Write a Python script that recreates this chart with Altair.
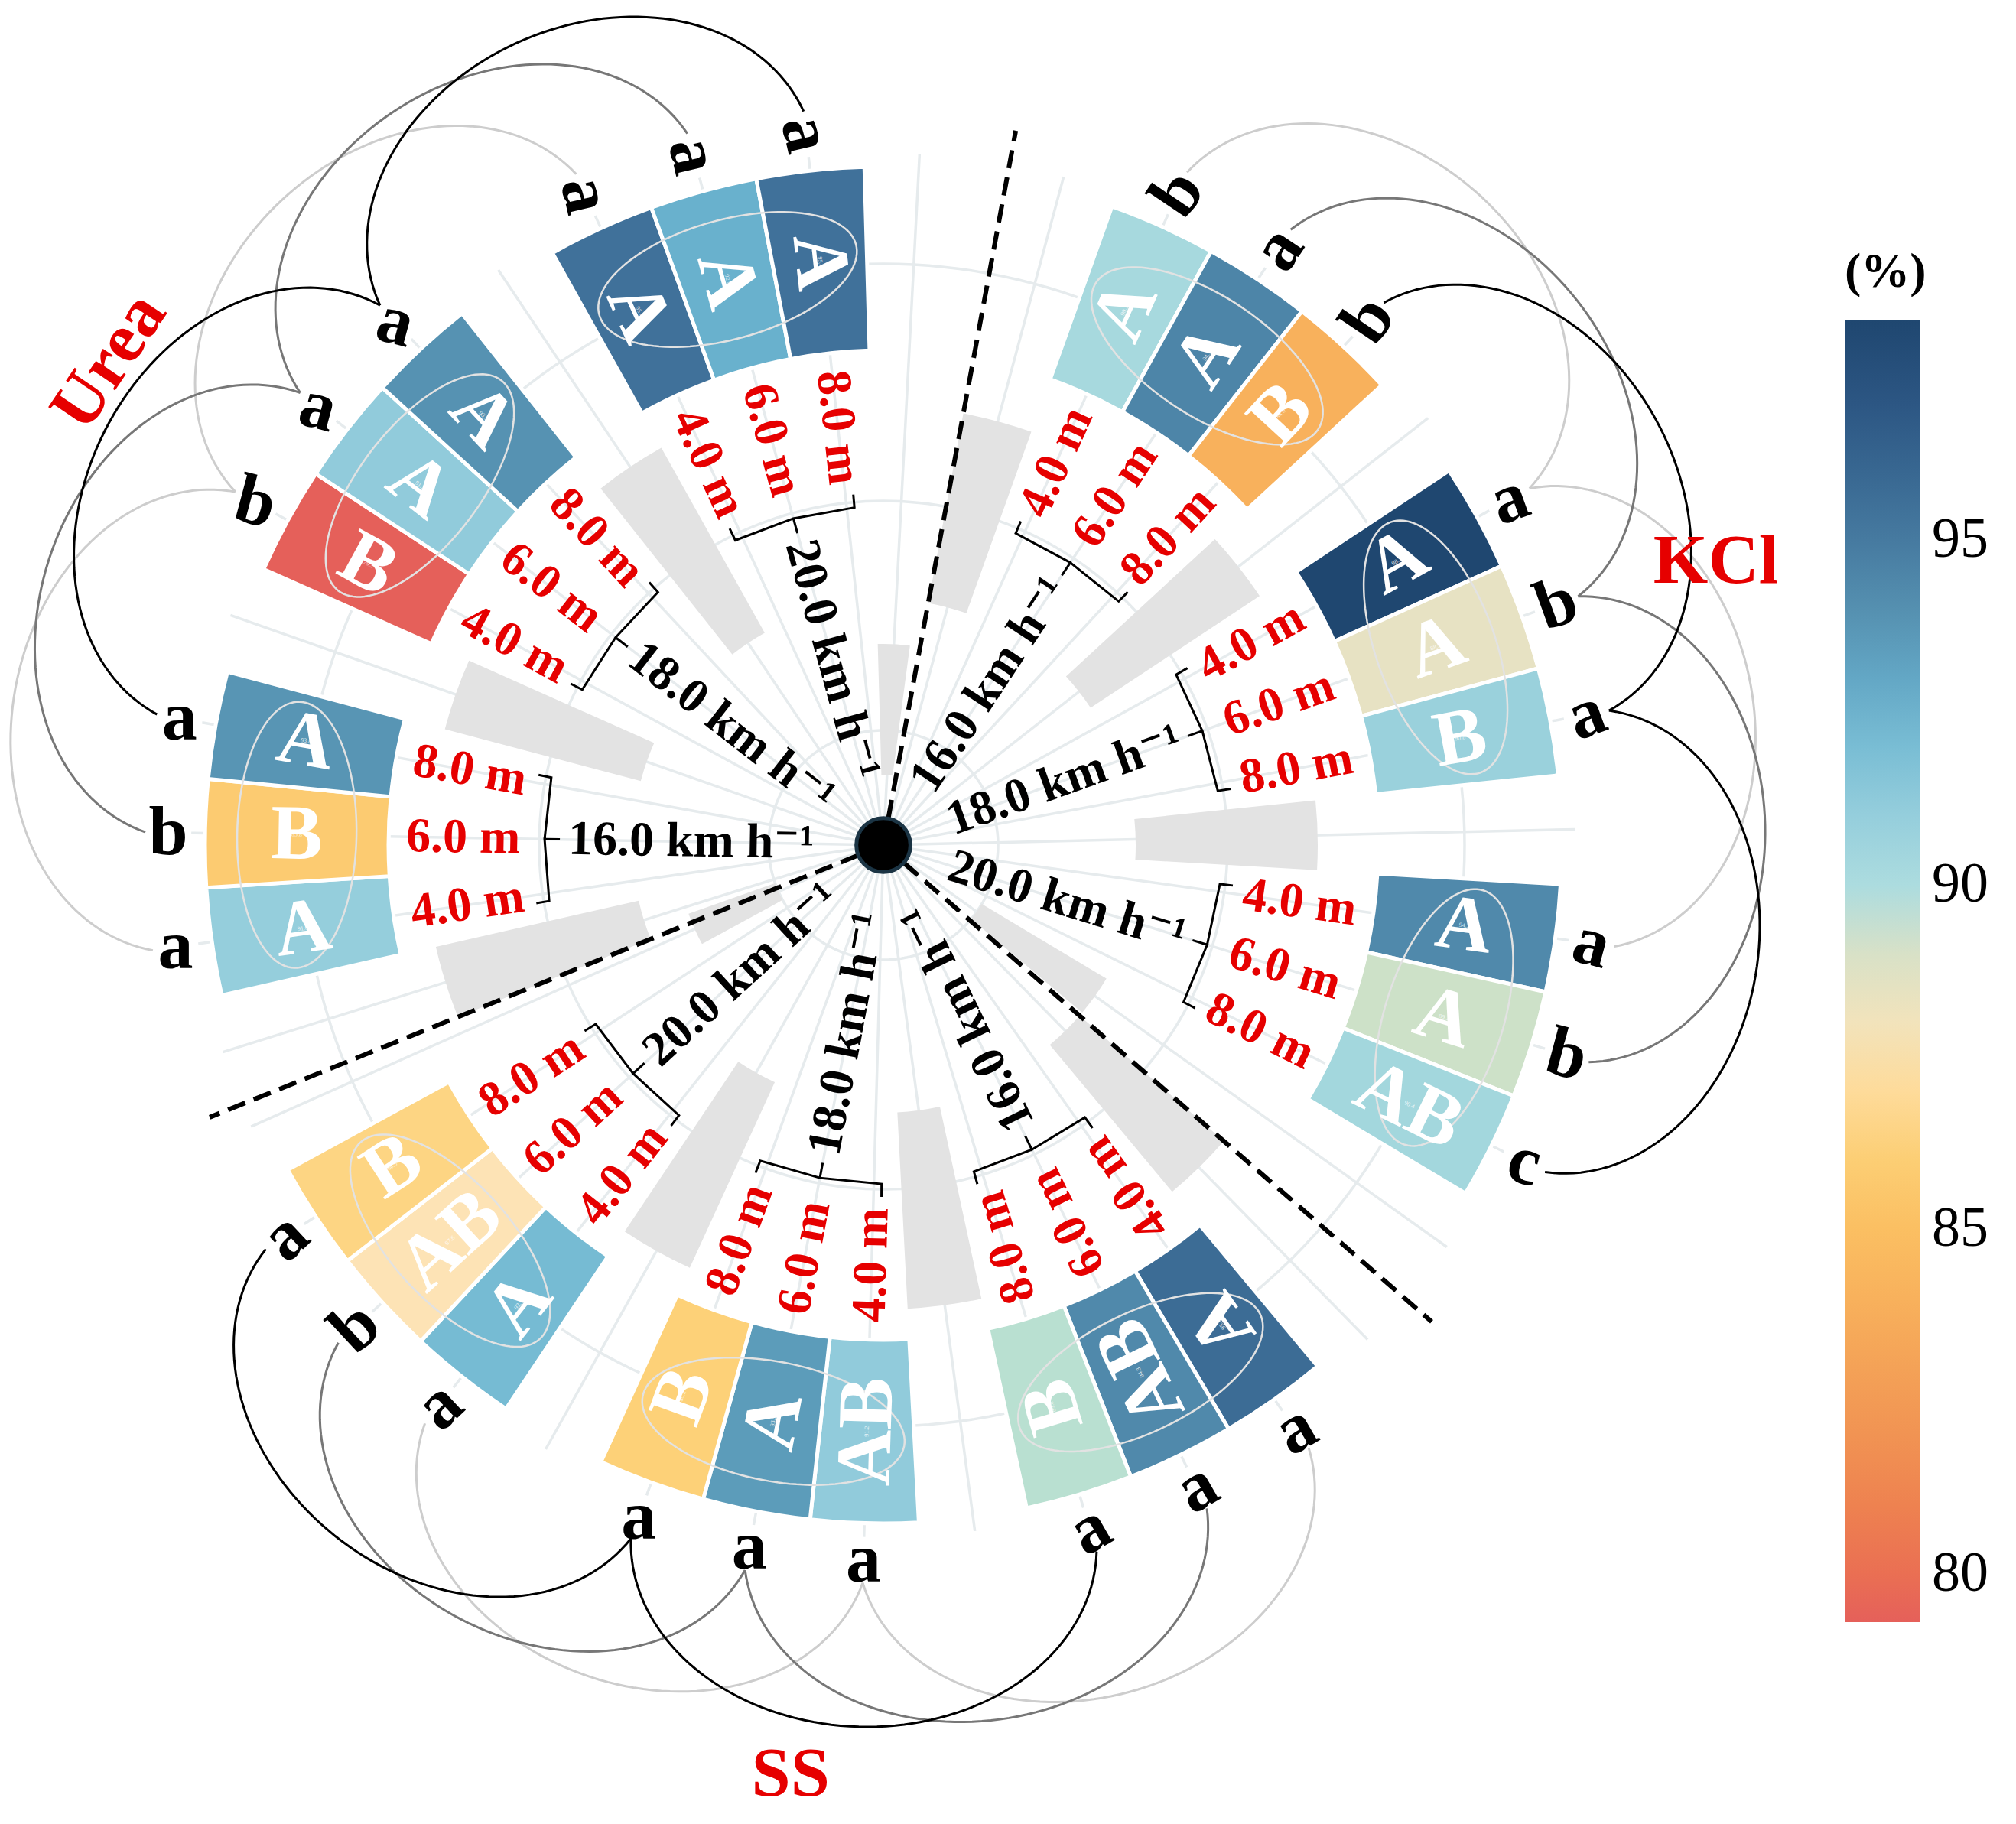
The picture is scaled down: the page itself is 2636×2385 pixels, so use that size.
import math
import altair as alt
import pandas as pd

# ---------------- data ----------------
fertilizers = ["KCl", "SS", "Urea"]
speeds = ["16.0 km h⁻¹", "18.0 km h⁻¹", "20.0 km h⁻¹"]
distances = ["4.0 m", "6.0 m", "8.0 m"]

# value (%) : [speed][distance]
values_kcl = [[90.2, 94.5, 84.0], [98.2, 88.5, 90.8], [94.3, 89.2, 90.4]]
values_ss = [[95.7, 94.3, 89.6], [91.2, 93.5, 86.2], [92.1, 87.6, 86.5]]
values_urea = [[91.0, 85.8, 93.8], [79.3, 91.2, 93.9], [95.4, 92.6, 95.4]]

upper_kcl = [["A", "A", "B"], ["A", "A", "B"], ["A", "A", "AB"]]
upper_ss = [["A", "AB", "B"], ["AB", "A", "B"], ["A", "AB", "B"]]
upper_urea = [["A", "B", "A"], ["B", "A", "A"], ["A", "A", "A"]]

lower_kcl = [["b", "a", "b"], ["a", "b", "a"], ["a", "b", "c"]]
lower_ss = [["a", "a", "a"], ["a", "a", "a"], ["a", "b", "a"]]
lower_urea = [["a", "b", "a"], ["b", "a", "a"], ["a", "a", "a"]]

# grey bars (inner / outer radius) in the four gap slots of each block
grey_inner_kcl = [322, 325, 330, 150]
grey_outer_kcl = [574, 590, 568, 340]
grey_inner_ss = [340, 350, 341, 150]
grey_outer_ss = [590, 607, 608, 270]
grey_inner_urea = [328, 328, 318, 92]
grey_outer_urea = [600, 593, 595, 263]

VALUES = {"KCl": values_kcl, "SS": values_ss, "Urea": values_urea}
UPPER = {"KCl": upper_kcl, "SS": upper_ss, "Urea": upper_urea}
LOWER = {"KCl": lower_kcl, "SS": lower_ss, "Urea": lower_urea}
GREY_IN = {"KCl": grey_inner_kcl, "SS": grey_inner_ss, "Urea": grey_inner_urea}
GREY_OUT = {"KCl": grey_outer_kcl, "SS": grey_outer_ss, "Urea": grey_outer_urea}

# colour scale stops
color_stops = [79.3, 80.5, 82.5, 85.0, 86.3, 87.6, 88.8, 90.0, 91.3, 92.5, 94.0, 95.5, 97.0, 98.2]
color_range = ["#e5605a", "#ec7a4f", "#f29b55", "#fbbf62", "#fdd27a", "#fde3b5", "#e2e1c8",
               "#acdcdf", "#8fcadb", "#6ab3cf", "#5590b0", "#3f6f98", "#2c5683", "#1f4770"]

# ---------------- layout ----------------
SERIF = "Liberation Serif, DejaVu Serif, serif"
RED = "#e60000"
BLOCK_START = {"KCl": 10.5, "SS": 131.0, "Urea": 248.0}
SLOT = 9.2
R_IN, R_OUT = 647, 887
R_UP, R_LOW = 767, 935
R_DIST, R_BR, R_SPEED = 624, 443, 412
R_CONN = 965
BULGE = 0.78
FERT_POS = {"Urea": (1194, 302.0, -56), "KCl": (1150, 71.2, 0), "SS": (1221, 185.7, 0)}
CONN_COL = ["#cdcdcd", "#777777", "#000000"]
# rotation of the outer lower-case letters, per speed group
LOW_ROT = {"KCl": [-56, -20, 15], "SS": [-30, 0, -43], "Urea": [0, 15, 77]}


def polar(r, a):
    t = math.radians(a)
    return r * math.sin(t), r * math.cos(t)


def txt_angle(f, a):
    ang = a - 90 if f == "KCl" else a - 270
    return ang % 360


seg, grey, up, low, tiny = [], [], [], [], []
dist_l, dist_r, spd_l, spd_r = [], [], [], []
lines, ell, conn = [], [], []

for f in fertilizers:
    s0 = BLOCK_START[f]
    right = f == "KCl"
    for gi in range(4):
        a0 = s0 + SLOT * 4 * gi
        grey.append(dict(cx=0, cy=0, t0=a0, t1=a0 + SLOT, r0=GREY_IN[f][gi], r1=GREY_OUT[f][gi]))
    for g in range(3):
        cs = []
        for d in range(3):
            a0 = s0 + SLOT * (1 + 4 * g + d)
            ac = a0 + SLOT / 2
            cs.append(ac)
            ang = txt_angle(f, ac)
            v = VALUES[f][g][d]
            seg.append(dict(cx=0, cy=0, t0=a0, t1=a0 + SLOT, r0=R_IN, r1=R_OUT, val=v))
            x, y = polar(R_UP, ac)
            up.append(dict(x=x, y=y, ang=ang, label=UPPER[f][g][d]))
            tiny.append(dict(x=x, y=y, ang=ang, label=f"{v:.1f}"))
            x, y = polar(R_LOW, ac)
            low.append(dict(x=x, y=y, ang=LOW_ROT[f][g] % 360, label=LOWER[f][g][d]))
            x, y = polar(R_DIST, ac)
            (dist_r if right else dist_l).append(dict(x=x, y=y, ang=ang, label=distances[d]))
        gc = cs[1]
        x, y = polar(R_SPEED, gc)
        (spd_r if right else spd_l).append(dict(x=x, y=y, ang=txt_angle(f, gc), label=speeds[g]))
        # bracket
        a0b, a1b = cs[0] - 1.3, cs[2] + 1.3
        pts = [(R_BR + 17, a0b), (R_BR, a0b), (R_BR, gc), (R_BR - 20, gc), (R_BR, gc),
               (R_BR, a1b), (R_BR + 17, a1b)]
        for i, (r, a) in enumerate(pts):
            x, y = polar(r, a)
            lines.append(dict(id=f"br{f}{g}", i=i, x=x, y=y))
        # ellipse
        mx, my = polar(R_UP, gc)
        t = math.radians(gc)
        rx, ry = math.sin(t), math.cos(t)
        tx, ty = ry, -rx
        for k in range(121):
            s = 2 * math.pi * k / 120
            ell.append(dict(id=f"el{f}{g}", i=k,
                            x=mx + 174 * math.cos(s) * tx + 78 * math.sin(s) * rx,
                            y=my + 174 * math.cos(s) * ty + 78 * math.sin(s) * ry))
    # connecting arcs
    for d in range(3):
        for g in range(2):
            aA = s0 + SLOT * (1 + 4 * g + d) + SLOT / 2
            aB = s0 + SLOT * (1 + 4 * (g + 1) + d) + SLOT / 2
            x0, y0 = polar(R_CONN, aA)
            x1, y1 = polar(R_CONN, aB)
            mx, my = (x0 + x1) / 2, (y0 + y1) / 2
            h = math.hypot(x1 - x0, y1 - y0) / 2
            ux, uy = (x1 - x0) / (2 * h), (y1 - y0) / (2 * h)
            nx, ny = -uy, ux
            if nx * mx + ny * my < 0:
                nx, ny = -nx, -ny
            for k in range(81):
                s = math.pi * k / 80
                conn.append(dict(id=f"cn{f}{d}{g}", i=k, col=CONN_COL[d],
                                 x=mx - math.cos(s) * h * ux + math.sin(s) * BULGE * h * nx,
                                 y=my - math.cos(s) * h * uy + math.sin(s) * BULGE * h * ny))

# grid: radial lines at slot centres + concentric circles
grid = []
for f in fertilizers:
    for sl in range(13):
        a = BLOCK_START[f] + SLOT * (sl + 0.5)
        x, y = polar(905, a)
        grid.append(dict(id=f"gr{f}{sl}", i=0, x=0, y=0))
        grid.append(dict(id=f"gr{f}{sl}", i=1, x=x, y=y))
for rc in [150, 450, 760]:
    for k in range(241):
        x, y = polar(rc, 360 * k / 240)
        grid.append(dict(id=f"c{rc}", i=k, x=x, y=y))

dash = []
for f in fertilizers:
    x, y = polar(950, BLOCK_START[f])
    dash.append(dict(id=f, i=0, x=0, y=0))
    dash.append(dict(id=f, i=1, x=x, y=y))

fert = []
for f in fertilizers:
    r, a, rot = FERT_POS[f]
    x, y = polar(r, a)
    fert.append(dict(x=x, y=y, ang=rot % 360, label=f))

# ---------------- chart ----------------
XS = alt.Scale(domain=[-1147, 1473], nice=False, zero=False)
YS = alt.Scale(domain=[-1273, 1097], nice=False, zero=False)
TS = alt.Scale(domain=[0, 360], range=[0, 2 * math.pi])
RS = alt.Scale(type="linear", domain=[0, 1000], range=[0, 1000], zero=True)
CS = alt.Scale(domain=color_stops, range=color_range)

X = alt.X("x:Q", scale=XS, axis=None)
Y = alt.Y("y:Q", scale=YS, axis=None)
CX = alt.X("cx:Q", scale=XS, axis=None)
CY = alt.Y("cy:Q", scale=YS, axis=None)


def line_layer(rows, **kw):
    return alt.Chart(pd.DataFrame(rows)).mark_line(**kw).encode(
        x=X, y=Y, detail="id:N", order="i:Q")


def text_layer(rows, **kw):
    return alt.Chart(pd.DataFrame(rows)).mark_text(baseline="middle", font=SERIF, **kw).encode(
        x=X, y=Y, text="label:N", angle=alt.Angle("ang:Q", scale=None))


legend = alt.Legend(
    title="(%)", orient="none", legendX=2404, legendY=316, direction="vertical",
    gradientLength=1703, gradientThickness=98, values=[80, 85, 90, 95], format="d",
    labelFontSize=74, labelFont=SERIF, labelColor="black", labelOffset=16,
    labelOverlap=False, titleFontSize=64, titleFont=SERIF, titleFontWeight="bold",
    titleColor="black", titlePadding=30, gradientStrokeWidth=0)

grid_l = line_layer(grid, color="#e6ebed", strokeWidth=3.5)
grey_l = alt.Chart(pd.DataFrame(grey)).mark_arc(color="#e3e3e3").encode(
    x=CX, y=CY,
    theta=alt.Theta("t0:Q", scale=TS, stack=None), theta2="t1:Q",
    radius=alt.Radius("r0:Q", scale=RS), radius2="r1:Q")
seg_l = alt.Chart(pd.DataFrame(seg)).mark_arc(stroke="white", strokeWidth=5).encode(
    x=CX, y=CY,
    theta=alt.Theta("t0:Q", scale=TS, stack=None), theta2="t1:Q",
    radius=alt.Radius("r0:Q", scale=RS), radius2="r1:Q",
    color=alt.Color("val:Q", scale=CS, legend=legend))
ell_l = line_layer(ell, color="#e2e2e2", strokeWidth=2.5)
conn_l = alt.Chart(pd.DataFrame(conn)).mark_line(strokeWidth=3).encode(
    x=X, y=Y, detail="id:N", order="i:Q", stroke=alt.Stroke("col:N", scale=None))
dash_l = line_layer(dash, color="black", strokeWidth=6, strokeDash=[24, 12])
br_l = line_layer(lines, color="black", strokeWidth=3)

tiny_l = text_layer(tiny, align="center", fontSize=8, color="white", opacity=0.8)
up_l = text_layer(up, align="center", fontSize=102, fontWeight="bold", color="white")
low_l = text_layer(low, align="center", fontSize=92, fontWeight="bold", color="black")
dl_l = text_layer(dist_l, align="left", fontSize=64, fontWeight="bold", color=RED)
dr_l = text_layer(dist_r, align="right", fontSize=64, fontWeight="bold", color=RED)
sl_l = text_layer(spd_l, align="left", fontSize=64, fontWeight="bold", color="black")
sr_l = text_layer(spd_r, align="right", fontSize=64, fontWeight="bold", color="black")
fert_l = text_layer(fert, align="center", fontSize=92, fontWeight="bold", color=RED)

dot_l = alt.Chart(pd.DataFrame([dict(x=0, y=0)])).mark_circle(
    size=5000, color="black", opacity=1, stroke="#1b3444", strokeWidth=5).encode(x=X, y=Y)

chart = alt.layer(
    grid_l, grey_l, seg_l, ell_l, conn_l, dash_l, br_l,
    tiny_l, up_l, low_l, dl_l, dr_l, sl_l, sr_l, fert_l, dot_l
).properties(
    width=2620, height=2370, padding=0,
    autosize=alt.AutoSizeParams(type="none"),
    background="white",
).configure_view(stroke=None)

chart.save("out.html", embed_options={"renderer": "svg", "actions": False})
